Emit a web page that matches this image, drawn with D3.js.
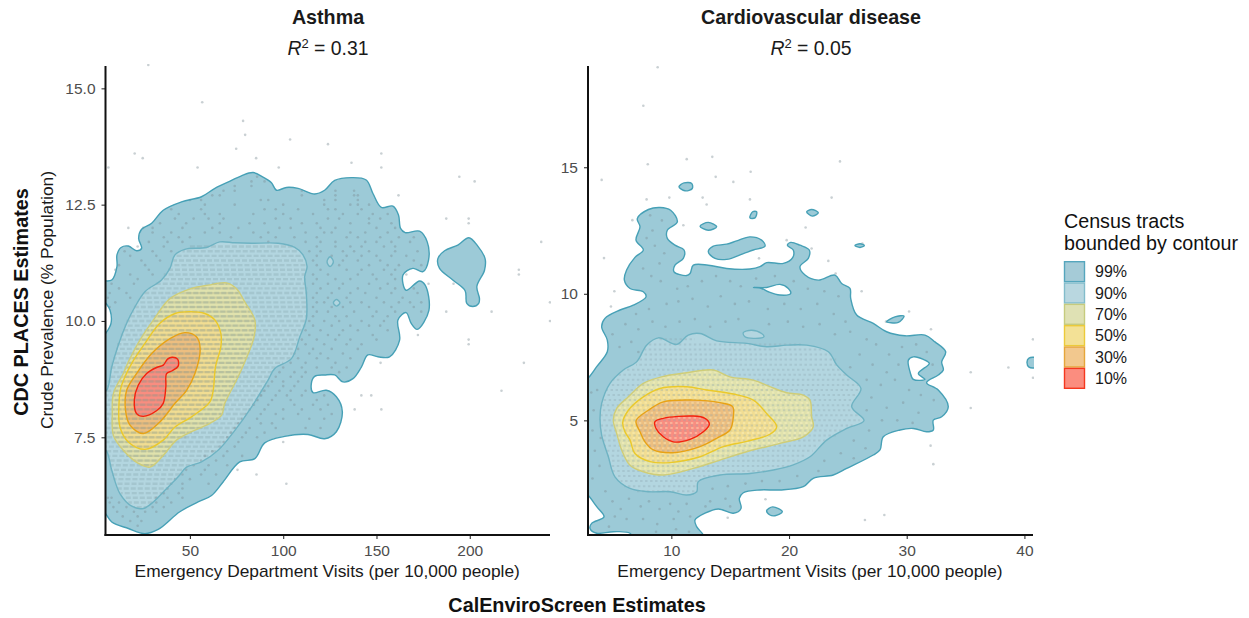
<!DOCTYPE html>
<html><head><meta charset="utf-8">
<style>html,body{margin:0;padding:0;background:#fff}svg{display:block}text{font-family:"Liberation Sans",Arial,sans-serif}</style>
<script src="https://cdnjs.cloudflare.com/ajax/libs/d3/7.8.5/d3.min.js"></script>
</head><body><div id="chart"></div>
<script>
const panelTitles=["Asthma","Cardiovascular disease"];
const r2Labels=["0.31","0.05"];
const legendLevels=["99%","90%","70%","50%","30%","10%"];
const asthmaXTicks=[50,100,150,200];
const asthmaYTicks=[7.5,10,12.5,15];
const cardioXTicks=[10,20,30,40];
const cardioYTicks=[5,10,15];

const asthma99=[[2.7,10.84],[8.1,10.88],[10.9,11.17],[10.9,11.42],[13.1,11.58],[17,11.61],[21.4,11.51],[24.1,11.56],[22.5,11.78],[24.1,11.97],[29.5,12.1],[35.7,12.38],[45.5,12.56],[56.2,12.67],[63.4,12.85],[72.3,13.02],[77.6,13.12],[83.9,13.19],[89.2,13.09],[93.7,12.97],[96.4,12.81],[101.7,12.87],[108,12.85],[116.9,12.73],[122.2,12.81],[127.6,13.02],[136.5,13.08],[144.5,13.03],[148.1,12.74],[152.6,12.44],[158.8,12.47],[161.8,12.28],[162.9,11.99],[165.4,11.9],[173.1,11.93],[177.2,11.7],[177.9,11.31],[174.9,11.06],[169.5,11.13],[164.2,10.99],[165.9,10.66],[173.1,10.86],[176.1,10.77],[178.1,10.23],[171.8,9.82],[168.6,9.95],[165.9,10.18],[161.5,10.02],[162.4,9.59],[157,9.23],[150.8,9.23],[145.4,9.27],[141.9,9.01],[137.4,8.76],[132,8.69],[127.6,8.84],[122.2,8.84],[116.9,8.81],[115.1,8.66],[116,8.46],[123.1,8.51],[128.5,8.37],[131.7,8.05],[128.5,7.62],[122.2,7.47],[113.3,7.56],[100.8,7.52],[90.1,7.38],[84.8,7.04],[76.7,6.97],[67.8,6.54],[61.6,6.25],[54.4,6.11],[44.6,5.9],[33,5.52],[25.9,5.43],[17,5.54],[8.1,5.68],[4.8,5.86],[1.8,6],[1.8,9.59],[4.8,9.73],[7.7,9.95],[7.2,10.23],[4.8,10.39],[1.8,10.52]];
const asthma99b=[[199.5,11.79],[204.3,11.61],[208.2,11.34],[207.9,11.09],[203.8,10.74],[205.2,10.48],[204.8,10.38],[201.6,10.31],[198.4,10.38],[197.5,10.65],[190.9,10.88],[183.8,11.13],[182.9,11.34],[186.5,11.51],[193.6,11.63]];
const asthma90=[[1.8,7.22],[5,7.22],[8.1,6.79],[12.5,6.29],[18.8,6.02],[25,5.97],[30.4,6.11],[36.6,6.36],[43.7,6.65],[48.2,6.86],[56.2,6.97],[65.1,7.22],[74.1,7.65],[83,8.15],[91.9,8.73],[95.5,8.98],[104.4,9.19],[108.9,9.66],[112.4,10.05],[112.4,10.59],[111.5,10.95],[112.8,11.17],[110.6,11.42],[106.2,11.58],[97.3,11.67],[83,11.67],[74.1,11.68],[66,11.7],[58.9,11.58],[47.3,11.54],[42,11.42],[39.3,11.13],[34.8,10.88],[25.9,10.63],[20.5,10.3],[16.1,9.95],[11.6,9.48],[8.1,9.01],[5.4,8.51],[1.8,8.44]];
const asthma90b=[[125.1,11.38],[126.9,11.27],[125.1,11.17],[123.5,11.27]];
const asthma90c=[[128.5,10.46],[130.4,10.39],[128.5,10.32],[126.9,10.39]];
const asthma70=[[69.6,10.82],[74.9,10.7],[79.4,10.41],[84.8,10.02],[84.4,9.66],[79.4,9.12],[75,8.73],[68.7,8.23],[66.9,7.97],[60.7,7.8],[50.9,7.62],[42.8,7.44],[35.7,7.11],[28.6,6.86],[22.3,6.94],[14.3,7.22],[9,7.54],[8.4,8.01],[9,8.44],[14.3,8.87],[17,9.12],[23.2,9.59],[30.4,10.02],[39.3,10.48],[50.9,10.7],[59.8,10.77]];
const asthma50=[[58,10.16],[63.4,10.02],[66.6,9.73],[66.6,9.45],[63.7,9.01],[62.5,8.51],[60.7,8.26],[50.9,7.94],[42,7.72],[35.7,7.44],[25.9,7.24],[17,7.4],[12.5,7.72],[12,8.23],[13.1,8.58],[18.8,9.09],[25.9,9.52],[33.9,9.95],[42,10.16],[50,10.2]];
const asthma30=[[47.3,9.75],[53.5,9.66],[55.5,9.41],[52.7,8.87],[48.2,8.51],[42,8.23],[33.9,7.83],[25,7.58],[17.9,7.76],[15.5,8.08],[16.1,8.51],[21.4,8.87],[29.5,9.3],[39.3,9.62]];
const asthma10=[[40.5,9.22],[43.4,9.18],[43.7,9.03],[40.5,8.93],[37.5,8.87],[37.1,8.58],[35.7,8.23],[32.1,8.07],[25,7.95],[21.4,8.01],[20.2,8.3],[22.3,8.62],[26.8,8.87],[32.1,9],[35.7,9.05],[38,9.18]];

const cardio99=[[2.38,6.46],[2.92,6.66],[3.66,7.12],[4.56,7.71],[4.56,8.17],[4.08,8.7],[4.36,9.03],[5.64,9.36],[6.77,9.55],[7.85,9.88],[7.62,10.08],[6.49,10.21],[6.01,10.54],[6.2,10.94],[6.91,11.44],[7.62,11.73],[7,12.12],[7.34,12.65],[7.11,12.97],[8.05,13.33],[9.04,13.41],[9.94,13.3],[10.51,12.84],[9.66,12.51],[9.66,12.19],[10.31,11.92],[11.08,11.73],[11.02,11.4],[10.31,11.13],[10.23,10.87],[11.3,10.72],[11.59,10.8],[11.87,11.13],[13.14,11.13],[14.7,11],[16.68,10.98],[17.53,11.07],[18.1,11.23],[19.52,11.2],[20.31,11.43],[20.36,11.73],[19.86,11.92],[20.14,12.03],[20.93,11.92],[21.72,11.73],[21.64,11.4],[20.93,11.07],[21.36,10.74],[22.49,10.54],[23.9,10.74],[24.47,10.41],[25.18,10.21],[25.24,9.82],[25.75,9.16],[27.16,8.83],[28.29,8.5],[29.85,8.34],[31.55,8.37],[32.4,8.1],[33.31,7.71],[32.97,7.31],[33.11,6.99],[32.68,6.79],[31.69,6.49],[32.68,6.2],[33.53,5.54],[32.97,5.14],[32.26,5.01],[32.26,4.62],[31.69,4.55],[30.56,4.68],[29.43,4.62],[28.01,4.35],[27.73,3.83],[27.16,3.63],[24.9,3.1],[23.76,2.84],[22.06,2.71],[21.21,2.38],[19.23,2.25],[17.53,2.25],[16.12,2.14],[15.78,1.92],[15.92,1.52],[15.27,1.33],[13.99,1.5],[12.86,1.33],[12.01,1.06],[12.15,0.8],[12.72,0.47],[12.86,0.14],[7.05,0.14],[6.49,0.54],[5.07,0.6],[3.66,0.54],[3.09,0.73],[3.23,0.93],[4.28,1.19],[3.66,1.59],[2.92,2.05],[2.38,2.31]];
const cardioIslands=[
[[10.65,14.23],[11.08,14.38],[11.73,14.36],[11.78,14.16],[11.16,14.07]],
[[12.44,12.67],[13.14,12.82],[13.85,12.65],[13.14,12.51]],
[[16.68,13],[16.91,13.24],[17.25,13.24],[17.11,13]],
[[21.5,13.24],[21.92,13.33],[22.49,13.2],[21.98,13.07]],
[[25.6,11.91],[26.03,11.98],[26.4,11.91],[26.03,11.83]],
[[13.14,11.66],[13.57,11.88],[14.7,11.96],[15.55,12.09],[16.68,12.25],[17.67,12.12],[17.96,11.88],[16.97,11.73],[16.12,11.59],[14.7,11.36],[13.71,11.4]],
[[28.29,8.89],[29,9.09],[29.77,9.12],[29.29,8.87],[28.58,8.86]],
[[18.1,1.43],[18.61,1.58],[19.43,1.39],[18.81,1.23],[18.38,1.26]],
[[40.22,7.3],[40.39,7.46],[40.98,7.46],[40.98,7.1],[40.39,7.1]]];
const cardioHoles=[
[[16.97,10.25],[18.1,10.25],[19.23,10.37],[19.94,10.21],[20.14,10.01],[19.23,9.95],[18.24,10.08],[17.67,10.21]],
[[30.14,7.38],[30.56,7.51],[31.41,7.41],[31.92,7.25],[30.99,6.85],[31.55,6.62],[30.56,6.62],[30.28,6.92]]];
const cardio90b=[[16.12,8.47],[16.82,8.56],[17.67,8.43],[17.87,8.3],[16.97,8.24],[16.26,8.3]];
const cardio90=[[3.94,5.08],[4.08,5.67],[4.79,6.46],[5.92,6.99],[7.05,7.31],[7.9,7.97],[8.9,8.26],[10.45,8],[11.44,8.37],[12.44,8.43],[13.85,8.14],[16.4,8.04],[18.1,7.91],[19.8,7.97],[21.5,7.97],[23.34,7.71],[24.05,7.19],[24.9,6.79],[26.11,6.26],[25.32,5.54],[26.37,4.99],[24.9,4.68],[23.2,4.22],[21.78,3.56],[20.36,3.24],[18.67,3.04],[16.68,2.9],[14.13,2.84],[12.29,2.58],[12.15,2.18],[11.3,2.05],[9.89,2.18],[8.05,2.18],[6.49,2.31],[5.21,2.77],[4.65,3.56],[4.08,4.42]];
const cardio70=[[5.07,5.01],[5.36,5.47],[6.35,5.93],[7.62,6.46],[9.18,6.72],[11.3,6.88],[13.57,6.99],[14.98,6.72],[16.97,6.59],[18.38,6.33],[19.8,6.09],[21.21,6],[21.78,5.8],[21.92,5.14],[22.06,4.75],[21.21,4.35],[19.23,4.09],[16.4,3.76],[14.13,3.43],[11.87,3.1],[9.32,2.84],[7.62,2.97],[6.49,3.23],[5.78,3.83],[5.36,4.48]];
const cardio50=[[5.87,4.91],[6.35,5.4],[7.62,5.93],[9.04,6.26],[11.3,6.33],[13,6.2],[15.27,6.04],[16.97,5.8],[18.1,5.27],[18.95,4.75],[18.38,4.45],[16.4,4.17],[14.42,3.96],[12.44,3.56],[9.89,3.33],[8.19,3.37],[6.91,3.69],[6.49,4.22],[6.06,4.55]];
const cardio30=[[7,4.98],[8.05,5.4],[9.32,5.73],[11.87,5.8],[14.13,5.7],[15.21,5.54],[15.27,5.14],[14.98,4.62],[13.85,4.29],[12.44,3.96],[10.17,3.72],[8.47,3.83],[7.76,4.15],[7.34,4.55]];
const cardio10=[[8.61,4.95],[9.32,5.08],[11.87,5.17],[12.86,5.08],[13.23,4.85],[12.72,4.55],[11.59,4.25],[10.17,4.15],[9.32,4.35],[8.7,4.68]];

/* isolated census tracts */
const asthmaOutliers=[[27.7,15.5],[56.6,14.7],[78.5,14.3],[79.6,14],[74.8,13.7],[103.7,13.9],[124,13.8],[20.4,13.6],[24.7,13.5],[85.5,13.5],[152.6,13.6],[136.6,13.4],[6.3,13.3],[54.1,13.3],[97.6,13.3],[152.6,13.3],[194.4,13.1],[202.6,13],[187.4,12.2],[199.4,12.2],[199.4,12.1],[238.3,11.7],[226.3,11.1],[226.3,11],[243,10.4],[243,10],[177.9,10.8],[191.3,10.8],[187.4,10.2],[211.7,10.2],[199.4,9.6],[199.4,9.5],[229,9.1],[217,8.5],[141.9,8.4],[147.2,8.4],[138.3,8.1],[152.6,8.1],[152.2,9.1],[100,7.4],[75.5,6.8],[85.7,6.7],[101.7,6.5],[172.2,9.7],[17,12],[25,12],[161.8,12.7]];
/* sparse tracts by prevalence row: first item is the y value */
const asthmaRows=[[13.1,86],[13,83,90],[12.9,74,83],[12.8,68,74,110,128,138],[12.7,62,66,110,128,138,140],[12.6,50,56,88,92,122,128,140],[12.5,58,74,100,122,136,140,146],[12.4,40,56,90,96,108,124,128,142],[12.3,44,58,66,84,100,116,132,140,148,156],[12.2,42,52,60,68,96,104,124,130,146,152],[12.1,34,48,66,82,90,110,118,136,146,158],[12,30,46,62,76,98,104,120,128,150,160],[11.9,30,40,58,66,84,92,112,122,126,136,144,156],[11.8,36,44,50,72,88,96,106,118,134,140,152,162,170],[11.7,28,38,46,92,112,120,128,144,150,158,168],[11.6,22,36,118,128,136,142,154,160],[11.5,15,30,40,114,120,132,138,146,160,172],[11.4,18,32,118,126,134,142,150,158,166],[11.3,24,34,116,132,140,152,170],[11.2,12,26,118,130,146,156,162,174],[11.1,10,28,120,134,142,154,160],[11,18,30,116,124,140,148,158,166],[10.9,22,118,128,136,150,160],[10.8,8,20,116,124,132,146,156],[10.7,12,120,130,140,152,160,170],[10.6,7,16,118,126,136,144,158,172],[10.5,6,18,116,124,134,150,164],[10.4,10,118,122,136,142,154,162,168,174],[10.3,7,116,126,132,146,158,170],[10.2,118,124,138,150,160,174],[10.1,116,128,134,148,156],[10,114,122,130,142,154],[9.9,116,126,136,146,152],[9.8,112,120,132,140,156],[9.7,114,124,130,148],[9.6,110,118,128,136,150],[9.5,112,122,134,142],[9.4,108,116,126,140],[9.3,106,114,120,132],[9.2,108,118,124,136],[9.1,104,112,128],[9,100,110,118,126,134],[8.9,98,106,112,130],[8.8,96,104,110],[8.7,94,100,108],[8.6,92,100,106],[8.5,90,98,104,112],[8.4,88,96,102,110,122],[8.3,86,94,104,118],[8.2,84,92,106,116,124],[8.1,82,90,100,110,120],[8,80,88,96,108,126],[7.9,78,86,100,114,122],[7.8,76,88,94],[7.7,74,82,96,112,120],[7.6,72,80,90],[7.5,70,78,86],[7.4,68,76],[7.3,66,74],[7.2,62,70],[7.1,58,68,78],[7,56,64],[6.9,52,60,70],[6.8,48,58],[6.7,46,56,64],[6.6,42,50],[6.5,40,46,60],[6.4,38,46],[6.3,36,44],[6.2,6,8,32,38,46],[6.1,7,12,32,40],[6,9,16,30,36],[5.9,11,20,26,32],[5.8,14,22],[5.7,18,24],[5.6,22]];
/* crowded rows: [y, xStart, xEnd] */
const asthmaBand90=[[11.6,50,105],[11.5,46,108],[11.4,42,110],[11.3,41,112],[11.2,40,113],[11.1,38,112],[11,36,112],[10.9,35,112],[10.8,32,112],[10.7,28,113],[10.6,25,113],[10.5,24,113],[10.4,22,113],[10.3,20,113],[10.2,19,113],[10.1,17,113],[10,16,112],[9.9,15,112],[9.8,14,110],[9.7,13,109],[9.6,12,108],[9.5,11,107],[9.4,10.5,106],[9.3,9.5,105],[9.2,9,104],[9.1,8,100],[9,7.5,96],[8.9,7,94],[8.8,6.5,93],[8.7,6,92],[8.6,5.5,91],[8.5,5,90],[8.4,5,89],[8.3,5,87],[8.2,5,85],[8.1,5,82],[8,5,80],[7.9,5,79],[7.8,5,77],[7.7,5,75],[7.6,5,73],[7.5,5,71],[7.4,5,69],[7.3,5,67],[7.2,5,64],[7.1,6,60],[7,6,56],[6.9,7,50],[6.8,7.5,47],[6.7,8,45],[6.6,9,42],[6.5,10,40],[6.4,11,38],[6.3,13,36],[6.2,15,33],[6.1,17,30],[6,20,27]];
const asthmaBand70=[[10.8,62,70],[10.7,51,75],[10.6,47,76],[10.5,40,77],[10.4,38,79],[10.3,36,81],[10.2,33,82],[10.1,31,84],[10,30,85],[9.9,29,85],[9.8,27,85],[9.7,26,84],[9.6,23,84],[9.5,22,83],[9.4,21,82],[9.3,19,81],[9.2,18,80],[9.1,17,79],[9,16,78],[8.9,15,77],[8.8,13,76],[8.7,12,75],[8.6,11,74],[8.5,10,72],[8.4,9,71],[8.3,9,70],[8.2,8.5,69],[8.1,8.5,68],[8,8.5,67],[7.9,8.5,65],[7.8,8.5,60],[7.7,8.5,57],[7.6,9,51],[7.5,10,48],[7.4,11,42],[7.3,13,40],[7.2,14,38],[7.1,16,36],[7,20,33],[6.9,24,31]];

const cardioTracts=[[4.08,14.5],[13.77,14.62],[16.74,14.82],[15.27,14.42],[9.83,13.8],[12.66,13.8],[13,13.53],[7.9,13.73],[16.68,13.73],[23.62,13.8],[6.69,12.91],[11.02,12.71],[21.41,12.62],[19.8,12.12],[26.23,11.99],[4.28,11.41],[21.92,11.79],[23.34,11.3],[17.45,11.4],[5.16,10.1],[4.87,9.5],[26.17,10.1],[23.96,10.8],[30.2,9.3],[28.24,8.9],[32.06,8.6],[32.03,4],[32.26,3.27],[26.45,1.06],[28.1,1.26],[14.79,1.15],[18,1.88],[8.84,18.95],[7.62,17.43],[8,15.12],[11.31,15.32],[13.48,15.41],[24.33,15.23],[35.44,6.9],[38.64,7.09],[35.44,5.49],[40.73,8.2],[40.73,6.68],
[8.2,13.1],[9.2,12.9],[8.4,12.5],[7.9,12.2],[8.6,11.9],[9.4,11.6],[9,11.2],[7.6,11],[8.3,10.7],[9.1,10.5],[10.5,10.2],[11.4,10.3],[12.6,10.5],[13.8,10.7],[15,10.5],[15.9,10.3],[17.2,10.6],[18.8,10.7],[20.4,10.5],[21.6,10.2],[23,10.1],[24.2,9.9],[7,9.2],[8.1,9.4],[9.6,9.6],[10.6,9.7],[11.8,9.8],[13.1,9.5],[14.2,9.9],[15.4,9.6],[16.6,9.7],[18.2,9.4],[19.6,9.6],[21,9.4],[22.4,9.6],[23.8,9.2],[24.8,8.9],[6.1,8.8],[7.2,8.6],[8.4,8.9],[9.5,8.7],[10.7,8.9],[12,9],[13.3,8.7],[14.6,8.9],[15.7,9],[18.3,8.8],[19.9,8.9],[21.2,8.7],[22.6,8.8],[23.9,8.4],[25.2,8.5],[26.6,8.2],[5,8.4],[5.6,7.9],[6.6,8.1],[7.2,7.7],[27.4,8],[28.5,7.6],[29.6,7.9],[30.8,8],[31.7,7.7],[26,7.6],[27.1,7.2],[25.2,7.1],[28.3,6.9],[29.3,7.2],[32.2,7.2],[26.6,6.6],[27.8,6.4],[29,6.6],[30.2,6.2],[31.2,6],[32.3,5.8],[27,5.9],[28.3,5.5],[29.7,5.7],[31,5.3],[26.6,5.4],[27.9,5],[29.2,5],[30.5,4.9],[26.8,4.6],[25.5,4.2],[26.5,3.9],[24.4,3.7],[25.5,3.5],[23,3.4],[22.5,3],[20.7,2.8],[19.2,2.6],[17.7,2.6],[16.3,2.5],[14.8,2.4],[13.5,2.3],[14.6,1.9],[13.3,1.8],[15,1.6],[12.9,1.6],[3.3,2.7],[3.9,3.2],[3.5,3.8],[4,4.3],[3.3,4.6],[3.4,5.4],[3.2,6.1],[3.7,6.2],[4.4,2.2],[5,1.8],[5.7,1.5],[6.4,1.9],[7.4,1.6],[8.1,1.8],[9,1.5],[9.9,1.7],[10.6,1.4],[11.3,1.7],[11.6,1.2],[10.2,1.1],[8.8,0.9],[7.6,1.1],[6.2,1.1],[5.2,1.2],[4.7,0.8],[8.7,0.6],[10.4,0.7],[11.5,0.6]];
const cardioBand90=[[8.2,9,12],[8,7.9,21],[7.8,7.7,23],[7.6,7.4,23.6],[7.4,7.2,24],[7.2,7,24.2],[7,6,24.5],[6.8,5.5,25],[6.6,5,25.4],[6.4,4.8,26],[6.2,4.5,26],[6,4.3,25.8],[5.8,4.2,25.5],[5.6,4.1,25.4],[5.4,4,25.5],[5.2,4,26],[5,3.9,26],[4.8,3.9,25.4],[4.6,4,24.6],[4.4,4,24],[4.2,4.2,23.2],[4,4.3,22.5],[3.8,4.4,22],[3.6,4.6,21.5],[3.4,4.7,20.8],[3.2,4.9,20],[3,5,18],[2.8,5.3,14],[2.6,5.7,12.3],[2.4,6,12.2],[2.2,7,12.2]];
const cardioBand70=[[6.9,11,14],[6.7,9,15],[6.5,8,17.5],[6.3,7,18.5],[6.1,6.5,20],[5.9,6.3,21.5],[5.7,5.7,21.8],[5.5,5.5,21.8],[5.3,5.2,21.9],[5.1,5.1,22],[4.9,5.1,22],[4.7,5.2,22],[4.5,5.3,21.5],[4.3,5.4,20.8],[4.1,5.6,19.2],[3.9,5.7,17.3],[3.7,5.8,16],[3.5,6,14.7],[3.3,6.5,12.8],[3.1,7,11.9],[2.9,8,10]];

const fills={"99":"#9ccad7","90":"#b3d6e0","70":"#e0e2ad","50":"#f1dd92","30":"#ecbe80","10":"#f98d80"};
const strokes={"99":"#46a0b6","90":"#6fb3c3","70":"#cfcd78","50":"#ebc92a","30":"#e8a215","10":"#f4210c"};
const legendFills=["#a5cbd7","#b9d7e0","#dfe1b4","#f3e196","#f2c88e","#fb8d7f"];
const legendStrokes=["#55a6bd","#82bccb","#c6cb7e","#ecca3a","#e6a63a","#f5381f"];

const W=1249,H=618;
const svg=d3.select("#chart").append("svg").attr("width",W).attr("height",H);

function panel(cfg){
  const x=d3.scaleLinear().domain(cfg.xd).range(cfg.xr);
  const y=d3.scaleLinear().domain(cfg.yd).range([535,66]);
  const id="clip"+cfg.i;
  svg.append("clipPath").attr("id",id).append("rect").attr("x",cfg.xr[0]).attr("y",64).attr("width",cfg.xr[1]-cfg.xr[0]+1).attr("height",471);
  const g=svg.append("g").attr("clip-path",`url(#${id})`);
  const line=d3.line().x(d=>x(d[0])).y(d=>y(d[1])).curve(d3.curveCatmullRomClosed.alpha(0.5));
  const shapes=cfg.shapes;
  g.selectAll("path.fill").data(shapes).join("path").attr("class","fill").attr("d",d=>line(d.pts)).attr("fill",d=>d.fill);
  const rows=(data,color,op,w,dash)=>g.selectAll(null).data(data).join("line")
     .attr("x1",d=>x(d[1])).attr("x2",d=>x(d[2])).attr("y1",d=>y(d[0])).attr("y2",d=>y(d[0]))
     .attr("stroke",color).attr("stroke-opacity",op).attr("stroke-width",w).attr("stroke-dasharray",dash)
     .attr("stroke-dashoffset",(d,i)=>(i*2.7)%7);
  cfg.rows(rows);
  g.selectAll("circle").data(cfg.points).join("circle").attr("cx",d=>x(d[0])).attr("cy",d=>y(d[1])).attr("r",1.3)
     .attr("fill","#7f8f96").attr("fill-opacity",0.42);
  g.selectAll("path.line").data(shapes).join("path").attr("class","line").attr("d",d=>line(d.pts)).attr("fill","none").attr("stroke",d=>d.stroke).attr("stroke-width",1.4);

  const ax=svg.append("g").attr("transform","translate(0,535)").call(d3.axisBottom(x).tickValues(cfg.xt).tickSize(4).tickPadding(6));
  const ay=svg.append("g").attr("transform",`translate(${cfg.xr[0]},0)`).call(d3.axisLeft(y).tickValues(cfg.yt).tickSize(4).tickPadding(6).tickFormat(cfg.yf));
  [ax,ay].forEach(a=>{a.select(".domain").remove();a.selectAll("line").attr("stroke","#333").attr("stroke-width",1.1);a.selectAll("text").attr("fill","#4d4d4d").style("font-size","15.5px").style("font-family",'"Liberation Sans",Arial,sans-serif');});
  svg.append("line").attr("x1",cfg.xr[0]).attr("x2",cfg.xr[0]).attr("y1",66).attr("y2",536).attr("stroke","#111").attr("stroke-width",2);
  svg.append("line").attr("x1",cfg.xr[0]-1).attr("x2",cfg.xr[1]).attr("y1",535).attr("y2",535).attr("stroke","#111").attr("stroke-width",2);

  const cx=cfg.cx;
  svg.append("text").attr("x",cx).attr("y",24).attr("text-anchor","middle").attr("font-weight","bold").attr("font-size",19.7).attr("fill","#1a1a1a").text(panelTitles[cfg.i]);
  const t=svg.append("text").attr("x",cx).attr("y",55).attr("text-anchor","middle").attr("font-size",19.4).attr("fill","#1a1a1a");
  t.append("tspan").attr("font-style","italic").text("R");
  t.append("tspan").attr("dy",-7).attr("font-size",13).text("2");
  t.append("tspan").attr("dy",7).text(" = "+r2Labels[cfg.i]);
  svg.append("text").attr("x",(cfg.xr[0]+cfg.xr[1])/2-0.5).attr("y",577).attr("text-anchor","middle").attr("font-size",17.35).attr("fill","#1a1a1a").text("Emergency Department Visits (per 10,000 people)");
}
const S=(pts,k)=>({pts,fill:fills[k],stroke:strokes[k]});
const asthmaPoints=asthmaOutliers.concat(asthmaRows.flatMap(r=>r.slice(1).map(v=>[v,r[0]])));
panel({i:0,xd:[4.76,243],xr:[105.5,550],yd:[5.4,15.48],xt:asthmaXTicks,yt:asthmaYTicks,yf:d3.format(".1f"),cx:328,
  shapes:[S(asthma99,"99"),S(asthma99b,"99"),S(asthma90,"90"),S(asthma90b,"90"),S(asthma90c,"90"),S(asthma70,"70"),S(asthma50,"50"),S(asthma30,"30"),S(asthma10,"10")],
  rows:rows=>{rows(asthmaBand90,"#7e9da6",0.28,2.4,"5 2");rows(asthmaBand70,"#8a8a70",0.2,2.2,"none");},
  points:asthmaPoints});
panel({i:1,xd:[2.92,40.73],xr:[588,1033],yd:[0.47,19],xt:cardioXTicks,yt:cardioYTicks,yf:d3.format("d"),cx:811,
  shapes:[S(cardio99,"99"),...cardioIslands.map(p=>S(p,"99")),{pts:cardioHoles[0],fill:"#fff",stroke:strokes["99"]},{pts:cardioHoles[1],fill:"#fff",stroke:strokes["99"]},S(cardio90b,"90"),S(cardio90,"90"),S(cardio70,"70"),S(cardio50,"50"),S(cardio30,"30"),S(cardio10,"10")],
  rows:rows=>{rows(cardioBand90,"#8ba6ae",0.32,2,"2.4 2.6");rows(cardioBand70,"#fff6c8",0.35,2,"2.4 2.8");},
  points:cardioTracts});

svg.append("text").attr("transform","translate(28,302) rotate(-90)").attr("text-anchor","middle").attr("font-weight","bold").attr("font-size",19.8).attr("fill","#111").text("CDC PLACES Estimates");
svg.append("text").attr("transform","translate(52.5,300) rotate(-90)").attr("text-anchor","middle").attr("font-size",17.4).attr("fill","#1a1a1a").text("Crude Prevalence (% Population)");
svg.append("text").attr("x",577).attr("y",612).attr("text-anchor","middle").attr("font-weight","bold").attr("font-size",19.8).attr("fill","#111").text("CalEnviroScreen Estimates");
svg.append("text").attr("x",1064).attr("y",228).attr("font-size",19.7).attr("fill","#111").text("Census tracts");
svg.append("text").attr("x",1064).attr("y",249.5).attr("font-size",19.7).attr("fill","#111").text("bounded by contour");
const key=d3.scaleBand().domain(legendLevels).range([261,389]);
svg.selectAll("rect.k").data(legendLevels).join("rect").attr("class","k").attr("x",1064.5).attr("y",d=>key(d)+0.7).attr("width",20).attr("height",key.bandwidth()-1.4)
  .attr("fill",(d,i)=>legendFills[i]).attr("stroke",(d,i)=>legendStrokes[i]).attr("stroke-width",1.4);
svg.selectAll("text.k").data(legendLevels).join("text").attr("class","k").attr("x",1095).attr("y",d=>key(d)+16.3).attr("font-size",16).attr("fill","#1a1a1a").text(d=>d);
</script></body></html>
